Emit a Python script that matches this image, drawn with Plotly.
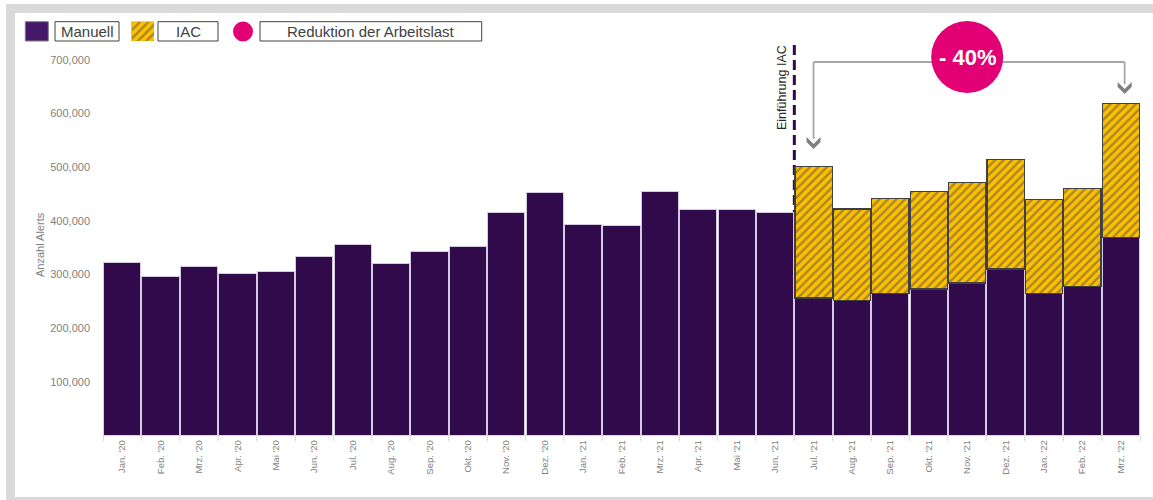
import plotly.graph_objects as go

# ---------------- data ----------------
categories = ["Jan. '20", "Feb. '20", "Mrz. '20", "Apr. '20", "Mai '20", "Jun. '20",
              "Jul. '20", "Aug. '20", "Sep. '20", "Okt. '20", "Nov. '20", "Dez. '20",
              "Jan. '21", "Feb. '21", "Mrz. '21", "Apr. '21", "Mai '21", "Jun. '21",
              "Jul. '21", "Aug. '21", "Sep. '21", "Okt. '21", "Nov. '21", "Dez. '21",
              "Jan. '22", "Feb. '22", "Mrz. '22"]
manuell = [323000, 297000, 315000, 302000, 305000, 333000, 355000, 321000, 342000,
           353000, 415000, 453000, 393000, 392000, 454000, 421000, 422000, 415000,
           256000, 252000, 264000, 273000, 284000, 310000, 264000, 277000, 369000]
iac = [None, None, None, None, None, None, None, None, None,
       None, None, None, None, None, None, None, None, None,
       245000, 170000, 177000, 182000, 188000, 205000, 176000, 184000, 250000]
y_ticks = [100000, 200000, 300000, 400000, 500000, 600000, 700000]
intro_label = "Einführung IAC"
reduction_label = "- 40%"
legend_labels = ["Manuell", "IAC", "Reduktion der Arbeitslast"]
y_title = "Anzahl Alerts"

# ---------------- geometry helpers ----------------
W, H = 1153, 500
PL, PR = 103, 1140          # plot area left/right in px
Y0_PX = 435.3               # pixel of value 0
Y_PER_PX = 600000 / (381.7 - 60)
Y_TOP = Y0_PX * Y_PER_PX    # value at pixel 0


def px2x(p):
    return p / W


def py2y(p):
    return 1 - p / H


def y_at(p):
    return (Y0_PX - p) * Y_PER_PX


FONT = "Liberation Sans, Arial, sans-serif"
PURPLE = "#300A4A"
YELLOW = "#FFC000"
HATCH = "#4d4d4d"
MAGENTA = "#E20074"
GREY_TXT = "#7f7f7f"

hatch_pattern = dict(shape="/", fgcolor=HATCH, bgcolor=YELLOW, size=6, solidity=0.4)

fig = go.Figure()
fig.add_bar(x=categories, y=manuell, name=legend_labels[0],
            marker=dict(color=PURPLE, line=dict(color="#d5cbe0", width=1)))
fig.add_bar(x=categories, y=iac, name=legend_labels[1],
            marker=dict(color=YELLOW, pattern=hatch_pattern,
                        line=dict(color="#404040", width=1.2)))
# hatched legend swatch
fig.add_bar(x=[0], y=[1], width=1, xaxis="x2", yaxis="y2", cliponaxis=False,
            marker=dict(color=YELLOW, pattern=hatch_pattern,
                        line=dict(color="#404040", width=1)), showlegend=False)

shapes = []
# outer frame (top, left, bottom edges)
FRAME = dict(color="#d9d9d9", width=9)
for (xa, ya, xb, yb) in [(6, 8.5, W, 8.5), (10.5, 4, 10.5, H), (6, 501.5, W, 501.5)]:
    shapes.append(dict(type="line", xref="paper", yref="paper",
                       x0=px2x(xa), y0=py2y(ya), x1=px2x(xb), y1=py2y(yb),
                       line=FRAME, layer="above"))
# dashed intro line
shapes.append(dict(type="line", xref="x", yref="y", x0=17.5, x1=17.5,
                   y0=y_at(45), y1=manuell[17],
                   line=dict(color=PURPLE, width=3, dash="10px,5px"), layer="below"))
# bracket
br_y = y_at(62)
for (xa, xb, ya, yb) in [(18, 26.1, br_y, br_y), (18, 18, br_y, y_at(139)),
                         (26.1, 26.1, br_y, y_at(84))]:
    shapes.append(dict(type="line", xref="x", yref="y", x0=xa, x1=xb, y0=ya, y1=yb,
                       line=dict(color="#a6a6a6", width=1.8)))
# chevrons
chev = "M 0,0 L 7,7 L 7,12 L 0,5 L -7,12 L -7,7 Z"
for xa, tip in [(18, 149), (26.1, 94)]:
    shapes.append(dict(type="path", xref="x", yref="y", xsizemode="pixel", ysizemode="pixel",
                       xanchor=xa, yanchor=y_at(tip), path=chev,
                       fillcolor="#7f7f7f", line=dict(width=0)))
# magenta circle
shapes.append(dict(type="circle", xref="x", yref="y", xsizemode="pixel", ysizemode="pixel",
                   xanchor=22, yanchor=y_at(57), x0=-36, x1=36, y0=-36, y1=36,
                   fillcolor=MAGENTA, line=dict(width=0)))

# legend shapes
LY0, LY1 = 21.7, 41
shapes.append(dict(type="rect", xref="paper", yref="paper", x0=px2x(25.3), x1=px2x(48.3),
                   y0=py2y(LY0), y1=py2y(LY1), fillcolor="#45186A",
                   line=dict(color="#7f7f7f", width=1)))
boxes = [(55, 119), (158, 218), (260, 481.7)]
for (a, b) in boxes:
    shapes.append(dict(type="rect", xref="paper", yref="paper", x0=px2x(a), x1=px2x(b),
                       y0=py2y(LY0), y1=py2y(LY1), fillcolor="white",
                       line=dict(color="#404040", width=1)))
shapes.append(dict(type="circle", xref="paper", yref="paper", x0=px2x(233), x1=px2x(253),
                   y0=py2y(21.5), y1=py2y(41.5), fillcolor=MAGENTA, line=dict(width=0)))

annotations = []
for (a, b), lab in zip(boxes, legend_labels):
    annotations.append(dict(text=lab, xref="paper", yref="paper", x=px2x((a + b) / 2),
                            y=py2y((LY0 + LY1) / 2), showarrow=False,
                            font=dict(family=FONT, size=15, color="#404040"),
                            xanchor="center", yanchor="middle"))
annotations.append(dict(text=intro_label, xref="paper", yref="paper", x=px2x(782), y=py2y(88),
                        textangle=-90, showarrow=False, xanchor="center", yanchor="middle",
                        font=dict(family=FONT, size=12.5, color="#262626")))
annotations.append(dict(text="<b>" + reduction_label + "</b>", xref="x", yref="y", x=22,
                        y=y_at(57), showarrow=False, xanchor="center", yanchor="middle",
                        font=dict(family=FONT, size=22, color="white")))
annotations.append(dict(text=y_title, xref="paper", yref="paper", x=px2x(40), y=py2y(245),
                        textangle=-90, showarrow=False, xanchor="center", yanchor="middle",
                        font=dict(family=FONT, size=11, color=GREY_TXT)))

fig.update_layout(
    width=W, height=H, margin=dict(l=0, r=0, t=0, b=0, autoexpand=False),
    barmode="stack", bargap=0.03, showlegend=False,
    plot_bgcolor="white", paper_bgcolor="white",
    font=dict(family=FONT),
    xaxis=dict(domain=[px2x(PL), px2x(PR)], type="category", range=[-0.5, 26.5],
               tickangle=-90, tickfont=dict(family=FONT, size=9.5, color=GREY_TXT),
               showline=True, linecolor="#d9d9d9", linewidth=1,
               ticks="outside", tickson="boundaries", ticklen=5, tickcolor="#d9d9d9",
               showgrid=False, zeroline=False, fixedrange=True),
    yaxis=dict(domain=[1 - Y0_PX / H, 1], range=[0, Y_TOP], tickvals=y_ticks,
               tickformat=",", ticklabelstandoff=12,
               tickfont=dict(family=FONT, size=11, color=GREY_TXT),
               showgrid=False, zeroline=False, showline=False, fixedrange=True),
    xaxis2=dict(domain=[px2x(131.7), px2x(154)], range=[-0.5, 0.5], visible=False,
                anchor="y2", fixedrange=True),
    yaxis2=dict(domain=[py2y(LY1), py2y(LY0)], range=[0, 1], visible=False,
                anchor="x2", fixedrange=True),
    shapes=shapes, annotations=annotations,
)

fig.write_html("out.html", config={"displayModeBar": False},
               post_script="document.body.style.margin='0';document.body.style.overflow='hidden';")
